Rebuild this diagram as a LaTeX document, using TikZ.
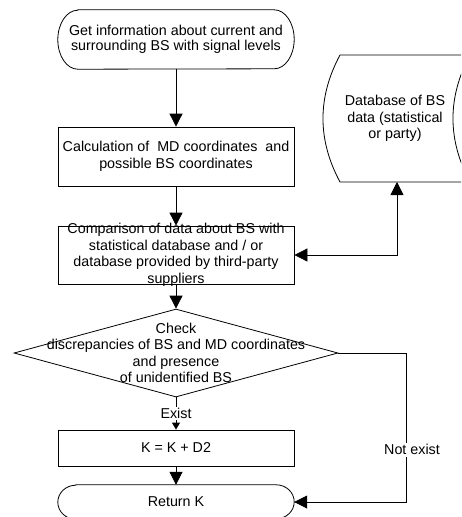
\documentclass[tikz,border=0pt]{standalone}
\usepackage{fontspec}
\setmainfont{Liberation Sans}
\usetikzlibrary{shapes.geometric,arrows.meta}
\tikzset{
  ln/.style={line width=0.8pt, draw=black},
  arr/.style={ln, -{Triangle[length=13pt,width=13pt]}},
  arrboth/.style={ln, {Triangle[length=13pt,width=13pt]}-{Triangle[length=13pt,width=13pt]}},
  smallarr/.style={ln, -{Triangle[length=7pt,width=8pt]}},
  txt/.style={font=\fontsize{14.3}{16.5}\selectfont, align=center, inner sep=0pt},
  procbox/.style={ln, minimum width=236pt, inner sep=0pt, txt},
  termbox/.style={minimum width=236pt, inner sep=0pt, txt},
  decision/.style={ln, diamond, minimum width=324pt, minimum height=88pt, inner sep=0pt},
  lbl/.style={txt, fill=white, inner sep=1.5pt},
}
% outline of a terminator: straight top and bottom, elliptical ends
% #1 node name, #2 horizontal radius of the ends, #3 half height
\newcommand\termoutline[3]{%
  \draw[ln] ([xshift=#2]#1.north west) -- ([xshift=-#2]#1.north east)
    arc[start angle=90, end angle=-90, x radius=#2, y radius=#3]
    -- ([xshift=#2]#1.south west)
    arc[start angle=270, end angle=90, x radius=#2, y radius=#3] -- cycle;}

\begin{document}
\begin{tikzpicture}[x=1pt,y=-1pt]
\useasboundingbox (0,0) rectangle (461,517);
\fill[white] (0,0) rectangle (461,517);
\clip (0,0) rectangle (461,517);

% main column
\node[termbox, minimum height=59pt, font=\fontsize{14.3}{15}\selectfont] (start) at (176,39.5)
  {Get information about current and\\surrounding BS with signal levels};
\termoutline{start}{20pt}{29.5pt}

\node[procbox, minimum height=59pt] (calc) at (176,156.5)
  {Calculation of~ MD coordinates~ and\\possible BS coordinates};

\node[procbox, minimum height=58pt,
  label={[txt]center:{Comparison of data about BS with\\statistical database and / or\\database provided by third-party\\suppliers}}]
  (cmp) at (176,255) {};

\node[decision] (chk) at (176,353) {};
\node[txt] (chktext) at (chk.center)
  {Check\\discrepancies of BS and MD coordinates\\and presence\\of unidentified BS};

\node[procbox, minimum height=36pt] (kbox) at (176,448) {K = K + D2};

\node[termbox, minimum height=34pt] (ret) at (176,502) {Return K};
\termoutline{ret}{18pt}{17pt}

% stored data
\node[txt] (db) at (395,118.5) {Database of BS\\data (statistical\\or party)};
\draw[ln] (475,55) -- (340,55) .. controls (317.3,97.3) and (317.3,139.7) .. (340,182) -- (475,182);
\draw[ln] (470,55) .. controls (447.3,97.3) and (447.3,139.7) .. (470,182);
\coordinate (dbin) at (397,182);

% connectors
\draw[arr] (start) -- (calc);
\draw[arr] (calc) -- (cmp);
\draw[arr] (cmp) -- (chk.north);
\draw[smallarr] (chk.south) -- node[lbl] {Exist} (kbox);
\draw[arr] (kbox) -- (ret);
\draw[arrboth] (cmp.east) -| (dbin);

\coordinate (nxa) at (406,353);
\coordinate (nxb) at (406,502);
\draw[arr] (chk.east) -- (nxa) -- node[lbl, pos=0.65, xshift=6pt] {Not exist} (nxb) -- (ret.east);
\end{tikzpicture}
\end{document}
